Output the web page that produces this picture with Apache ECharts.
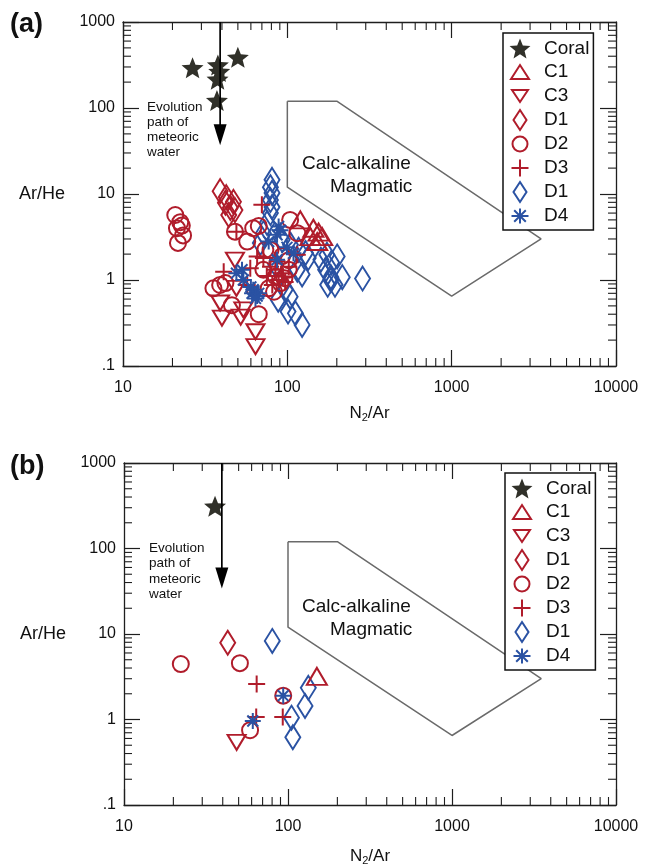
<!DOCTYPE html>
<html><head><meta charset="utf-8">
<script src="https://cdn.jsdelivr.net/npm/echarts@6/dist/echarts.min.js"></script>
<style>html,body{margin:0;padding:0;background:#fff}#c{width:647px;height:867px}</style>
</head><body><div id="c"></div>
<script>
// ---------- data ----------
const xTicks = [10, 100, 1000, 10000];
const yTicks = [0.1, 1, 10, 100, 1000];
const xMinor = [20,30,40,50,60,70,80,90,200,300,400,500,600,700,800,900,2000,3000,4000,5000,6000,7000,8000,9000];
const yMinor = [0.2,0.3,0.4,0.5,0.6,0.7,0.8,0.9,2,3,4,5,6,7,8,9,20,30,40,50,60,70,80,90,200,300,400,500,600,700,800,900];
const fieldX = [100, 200, 3500, 1000, 100, 100];
const fieldY = [120, 120, 3, 0.65, 12, 120];
const arrowA = [39, 1000, 37];
const arrowB = [39.5, 1000, 34];
const seriesNames = ['Coral', 'C1', 'C3', 'D1', 'D2', 'D3', 'D1 ', 'D4'];

// panel (a)
const coralA = [[26.5,294],[37.8,316],[50,388],[37.6,216],[37.3,122],[38.5,265]];
const c1A = [[120,5.0],[144,4.0],[155,3.6],[138,3.2],[163,3.2],[152,2.8]];
const c3A = [[48,1.7],[39,0.54],[40,0.36],[52,0.37],[54,0.45],[64,0.25],[64,0.168],[49,0.8]];
const d1rA = [[39,10.8],[42.5,9.2],[47,8.1],[42,7.9],[45,6.9],[48,6.5],[44,5.7]];
const d2A = [[20.8,5.7],[22.3,4.7],[21.3,4.0],[23.2,3.3],[21.6,2.7],[22.8,4.3],[48,3.65],[57,2.8],[62,4.0],[67,4.25],[104,5.0],[115,3.5],[35.5,0.80],[39,0.875],[42,0.92],[46,0.51],[67,0.40],[79,2.23],[73.5,2.25],[93,1.9],[102,1.7],[77,0.80],[83,0.73],[91,0.92],[71.5,1.32],[102,1.32],[85,1.1],[96,1.05]];
const d3A = [[70,7.5],[49,3.65],[41,1.25],[59.5,1.37],[57,0.875],[65.5,1.87],[71.5,1.8],[79,1.43],[86.6,1.65],[84.6,1.32],[92.6,1.2],[75,1.11],[88.5,1.0],[97,0.95],[81,0.875],[102,1.43],[115,1.97],[94,1.1]];
const d1bA = [[80.7,14.6],[78.9,12.0],[80.7,10.3],[78.9,8.5],[80.7,7.06],[78.9,6.0],[75.3,4.6],[71.5,3.5],[68.5,2.7],[93,2.93],[104.5,2.57],[117,2.25],[129,2.06],[134,1.8],[160,1.72],[171,1.32],[186,1.6],[201,1.88],[216,1.08],[184,1.08],[176,0.88],[195,0.88],[115,1.32],[123,1.16],[104,0.64],[101,0.43],[112,0.41],[123,0.30],[287,1.04],[174,1.97],[184,1.0],[85,1.5],[97,0.77],[88,0.59]];
const d4A = [[90.8,3.8],[86.6,3.35],[88.5,4.2],[77,2.8],[99.5,2.4],[109,2.04],[86.6,1.72],[53,1.32],[54,1.0],[49,1.2],[60,0.83],[62,0.77],[61,0.70],[65.5,0.65],[67,0.70],[64,0.61]];

// panel (b)
const coralB = [[35.9,312]];
const c1B = [[150,3.2]];
const c3B = [[48.6,0.54]];
const d1rB = [[42.9,7.9]];
const d2B = [[22.2,4.45],[50.9,4.56],[93.5,1.9],[58.7,0.75]];
const d3B = [[64.4,2.6],[64,1.07],[92.9,1.07]];
const d1bB = [[80.2,8.3],[133,2.35],[127,1.44],[105,1.05],[107,0.62]];
const d4B = [[93.5,1.9],[61,0.96]];

// ---------- styles ----------
const FONT = 'Liberation Sans, Arial, Helvetica, sans-serif';
const RED = '#b01c2b', BLUE = '#2a52a3', STAR = '#303029', AX = '#1e1e1e';
const MAJOR = 16, MINOR = 8, BW = 2;
const starPath = 'M12,0.5L14.82,7.62L22.46,8.1L16.57,12.98L18.47,20.4L12,16.3L5.53,20.4L7.43,12.98L1.54,8.1L9.18,7.62Z';
const plusPath = 'path://M0,5L10,5M5,0L5,10';
const astPath = 'path://M5,0L5,10M0,5L10,5M1.6,1.6L8.4,8.4M8.4,1.6L1.6,8.4';
const PAD = 'M0,0M24,22';
const legendIcons = {
  'Coral': 'path://' + PAD + starPath,
  'C1': 'path://' + PAD + 'M3,18L12,4L21,18Z',
  'C3': 'path://' + PAD + 'M4,5L20,5L12,17Z',
  'D1': 'path://' + PAD + 'M12,1L18.5,11L12,21L5.5,11Z',
  'D2': 'path://' + PAD + 'M4.5,11A7.5,7.5,0,1,1,19.5,11A7.5,7.5,0,1,1,4.5,11Z',
  'D3': 'path://' + PAD + 'M3.5,11L20.5,11M12,2.5L12,19.5',
  'D1 ': 'path://' + PAD + 'M12,1L18.5,11L12,21L5.5,11Z',
  'D4': 'path://' + PAD + 'M12,3.5L12,18.5M3.5,11L20.5,11M6.2,5.2L17.8,16.8M17.8,5.2L6.2,16.8'
};
const hollow = c => ({color: 'transparent', borderColor: c, borderWidth: BW, opacity: 1});
const styleOf = {
  'Coral': {symbol: 'path://' + starPath, symbolSize: [22, 21], itemStyle: {color: STAR, borderWidth: 0, opacity: 1}},
  'C1': {symbol: 'triangle', symbolSize: [20, 17], itemStyle: hollow(RED)},
  'C3': {symbol: 'triangle', symbolRotate: 180, symbolSize: [18, 15], itemStyle: hollow(RED)},
  'D1': {symbol: 'diamond', symbolSize: [15, 24], itemStyle: hollow(RED)},
  'D2': {symbol: 'circle', symbolSize: 16, itemStyle: hollow(RED)},
  'D3': {symbol: plusPath, symbolSize: 17, itemStyle: hollow(RED)},
  'D1 ': {symbol: 'diamond', symbolSize: [15, 24], itemStyle: hollow(BLUE)},
  'D4': {symbol: astPath, symbolSize: 16, itemStyle: hollow(BLUE)}
};
const drawOrder = ['D1 ', 'C1', 'C3', 'D1', 'D2', 'D3', 'D4', 'Coral'];
const dataA = {'Coral': coralA, 'C1': c1A, 'C3': c3A, 'D1': d1rA, 'D2': d2A, 'D3': d3A, 'D1 ': d1bA, 'D4': d4A};
const dataB = {'Coral': coralB, 'C1': c1B, 'C3': c3B, 'D1': d1rB, 'D2': d2B, 'D3': d3B, 'D1 ': d1bB, 'D4': d4B};

const X0 = xTicks[0], X1 = xTicks[xTicks.length - 1];
const Y0 = yTicks[0], Y1 = yTicks[yTicks.length - 1];

function xAxes(grid, nameGap) {
  const common = {
    type: 'log', logBase: 10, min: X0, max: X1, gridIndex: grid,
    axisLine: {show: true, lineStyle: {color: AX, width: 1.3}},
    axisTick: {show: true, inside: true, length: MAJOR, lineStyle: {color: AX, width: 1.2}},
    splitLine: {show: false}, minorTick: {show: false}
  };
  return [
    Object.assign({}, common, {position: 'bottom',
      axisLabel: {show: true, fontSize: 16, fontFamily: FONT, color: '#111', margin: 14, showMinLabel: true, showMaxLabel: true,
        formatter: v => String(Math.round(v))},
      name: '{a|N}{b|2}{a|/Ar}', nameLocation: 'middle', nameGap: nameGap,
      nameTextStyle: {rich: {a: {fontSize: 17, fontFamily: FONT, color: '#111'}, b: {fontSize: 11, fontFamily: FONT, color: '#111', padding: [9, 0, 0, 0]}}}
    }),
    Object.assign({}, common, {position: 'top', axisLabel: {show: false}})
  ];
}
function yAxes(grid) {
  const common = {
    type: 'log', logBase: 10, min: Y0, max: Y1, gridIndex: grid,
    axisLine: {show: true, lineStyle: {color: AX, width: 1.3}},
    axisTick: {show: true, inside: true, length: MAJOR, lineStyle: {color: AX, width: 1.2}},
    splitLine: {show: false}, minorTick: {show: false}
  };
  return [
    Object.assign({}, common, {position: 'left',
      axisLabel: {show: true, fontSize: 16, fontFamily: FONT, color: '#111', margin: 8, showMinLabel: true, showMaxLabel: true,
        formatter: v => v < 0.5 ? '.1' : String(Math.round(v))},
      name: 'Ar/He', nameLocation: 'middle', nameRotate: 0, nameGap: 58,
      nameTextStyle: {fontSize: 18, fontFamily: FONT, color: '#111'}
    }),
    Object.assign({}, common, {position: 'right', axisLabel: {show: false}})
  ];
}

function minorSeries(grid) {
  const xi = grid * 2, yi = grid * 2;
  const ln = (x1, y1, x2, y2) => ({type: 'line', shape: {x1, y1, x2, y2}, style: {stroke: AX, lineWidth: 1.1}});
  return [
    {type: 'custom', xAxisIndex: xi, yAxisIndex: yi, silent: true, z: 1, clip: false,
      data: xMinor.map(v => [v, 1]),
      renderItem: (p, api) => {
        const v = api.value(0);
        const b = api.coord([v, Y0]), t = api.coord([v, Y1]);
        return {type: 'group', children: [ln(b[0], b[1], b[0], b[1] - MINOR), ln(t[0], t[1], t[0], t[1] + MINOR)]};
      }},
    {type: 'custom', xAxisIndex: xi, yAxisIndex: yi, silent: true, z: 1, clip: false,
      data: yMinor.map(v => [20, v]),
      renderItem: (p, api) => {
        const v = api.value(1);
        const l = api.coord([X0, v]), r = api.coord([X1, v]);
        return {type: 'group', children: [ln(l[0], l[1], l[0] + MINOR, l[1]), ln(r[0], r[1], r[0] - MINOR, r[1])]};
      }}
  ];
}

function fieldSeries(grid) {
  return {type: 'line', xAxisIndex: grid * 2, yAxisIndex: grid * 2, silent: true, z: 2,
    data: fieldX.map((x, i) => [x, fieldY[i]]), showSymbol: false, symbol: 'none',
    lineStyle: {color: '#6a6a6a', width: 1.5}};
}

function arrowSeries(grid, arr) {
  return {type: 'custom', xAxisIndex: grid * 2, yAxisIndex: grid * 2, silent: true, z: 5, clip: false,
    data: [arr],
    renderItem: (p, api) => {
      const top = api.coord([api.value(0), api.value(1)]);
      const tip = api.coord([api.value(0), api.value(2)]);
      const hl = 21, hw = 6.5;
      return {type: 'group', children: [
        {type: 'line', shape: {x1: top[0], y1: top[1], x2: tip[0], y2: tip[1] - hl + 2}, style: {stroke: '#000', lineWidth: 1.7}},
        {type: 'polygon', shape: {points: [[tip[0], tip[1]], [tip[0] - hw, tip[1] - hl], [tip[0] + hw, tip[1] - hl]]}, style: {fill: '#000'}}
      ]};
    }};
}

function scatterSeries(grid, dataMap) {
  return drawOrder.map((name, k) => Object.assign({
    type: 'scatter', name: name, xAxisIndex: grid * 2, yAxisIndex: grid * 2,
    data: dataMap[name], z: 3 + k * 0.01, zlevel: 0, emphasis: {disabled: true}
  }, JSON.parse(JSON.stringify(styleOf[name]))));
}

function mkLegend(left, top) {
  return {
    left: left, top: top, orient: 'vertical', itemWidth: 24, itemHeight: 22, itemGap: 0,
    padding: [5, 4, 2, 4], borderColor: '#111', borderWidth: 1.5, backgroundColor: '#fff',
    selectedMode: false, z: 10,
    textStyle: {fontSize: 19, lineHeight: 20, fontFamily: FONT, color: '#111', padding: [0, 0, 0, 7]},
    data: seriesNames.map(n => ({name: n, icon: legendIcons[n], itemStyle: JSON.parse(JSON.stringify(styleOf[n].itemStyle))}))
  };
}

const txt = (x, y, text, font, align) => ({type: 'text', x: x, y: y, z: 20,
  style: {text: text, font: font, fill: '#111', align: align || 'left', verticalAlign: 'middle'}});
const small = '13.5px ' + FONT, mid = '19px ' + FONT, big = 'bold 27px ' + FONT;

const option = {
  animation: false,
  backgroundColor: '#fff',
  grid: [
    {left: 123, top: 22, width: 493, height: 344},
    {left: 124, top: 463, width: 492, height: 345}
  ],
  xAxis: [].concat(xAxes(0, 37), xAxes(1, 41)),
  yAxis: [].concat(yAxes(0), yAxes(1)),
  legend: [mkLegend(503, 33), mkLegend(505, 473)],
  graphic: [
    txt(10, 25, '(a)', big), txt(10, 467, '(b)', big),
    txt(147, 107.3, 'Evolution', small), txt(147, 122.7, 'path of', small), txt(147, 137.7, 'meteoric', small), txt(147, 152.7, 'water', small),
    txt(149, 548.3, 'Evolution', small), txt(149, 563.6, 'path of', small), txt(149, 579, 'meteoric', small), txt(149, 594.3, 'water', small),
    txt(302, 164, 'Calc-alkaline', mid), txt(330, 187, 'Magmatic', mid),
    txt(302, 607, 'Calc-alkaline', mid), txt(330, 630, 'Magmatic', mid)
  ],
  series: [].concat(
    minorSeries(0), minorSeries(1),
    [fieldSeries(0), fieldSeries(1)],
    scatterSeries(0, dataA), scatterSeries(1, dataB),
    [arrowSeries(0, arrowA), arrowSeries(1, arrowB)]
  )
};
const chart = echarts.init(document.getElementById('c'), null, {renderer: 'canvas'});
chart.setOption(option);
</script>
</body></html>
